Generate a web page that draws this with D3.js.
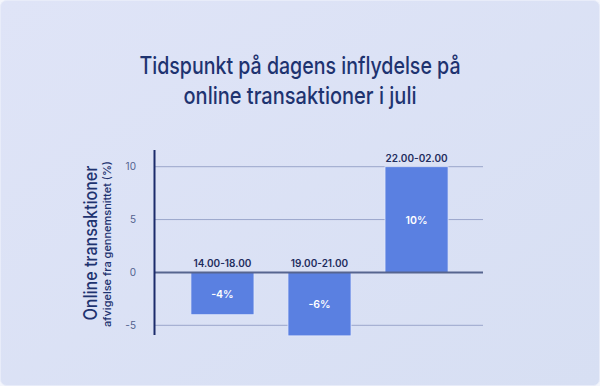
<!DOCTYPE html>
<html lang="da">
<head>
    <meta charset="utf-8">
    <script src="https://d3js.org/d3.v7.min.js"></script>
    <style>
        body { margin: 0; background: #f4f6fc; }
        svg { display: block; }
    </style>
</head>
<body>
    <script type="text/javascript">

        let w = 600;
        let h = 386;

        // data
        let categories = ["14.00-18.00", "19.00-21.00", "22.00-02.00"];
        let values = [-4, -6, 10];
        let valueLabels = ["-4%", "-6%", "10%"];
        let yTicks = [-5, 0, 5, 10];

        let svg = d3.select("body").append("svg")
                    .attr("width", w)
                    .attr("height", h);

        let defs = svg.append("defs");
        let grad = defs.append("linearGradient")
                    .attr("id", "bg")
                    .attr("x1", "0%").attr("y1", "0%")
                    .attr("x2", "100%").attr("y2", "100%");
        grad.append("stop").attr("offset", "0%").attr("stop-color", "#dfe4f7");
        grad.append("stop").attr("offset", "100%").attr("stop-color", "#d7dff3");

        // card
        svg.append("rect")
            .attr("x", 0.5).attr("y", 0.5)
            .attr("width", w - 1).attr("height", h - 1)
            .attr("rx", 6)
            .attr("fill", "url(#bg)")
            .attr("stroke", "#e8ecf9");

        // title (squeezed a bit, the original font is narrower)
        let titleLines = [
            {text: "Tidspunkt på dagens inflydelse på", y: 74, len: 321},
            {text: "online transaktioner i juli", y: 104, len: 233}
        ];
        svg.selectAll(".title")
            .data(titleLines)
            .join("text")
                .attr("class", "title")
                .attr("x", 300)
                .attr("y", d => d.y)
                .attr("text-anchor", "middle")
                .attr("font-family", "Inter, sans-serif")
                .attr("font-weight", 500)
                .attr("font-size", 24)
                .attr("fill", "#1e3370")
                .attr("textLength", d => d.len)
                .attr("lengthAdjust", "spacingAndGlyphs")
                .text(d => d.text);

        let y = d3.scaleLinear()
                    .domain([-5, 10])
                    .range([325.3, 166.7]);

        let x = d3.scaleBand()
                    .domain(categories)
                    .range([155, 484])
                    .paddingInner(0.35)
                    .paddingOuter(0.37);

        // gridlines
        svg.selectAll(".grid")
            .data(yTicks.filter(d => d !== 0))
            .join("line")
                .attr("class", "grid")
                .attr("x1", 155).attr("x2", 483)
                .attr("y1", d => y(d)).attr("y2", d => y(d))
                .attr("stroke", "#9aa6cb")
                .attr("stroke-width", 1);

        // tick labels
        svg.selectAll(".tick-label")
            .data(yTicks)
            .join("text")
                .attr("class", "tick-label")
                .attr("x", 136)
                .attr("y", d => y(d) + 3.5)
                .attr("text-anchor", "end")
                .attr("font-family", "Inter, sans-serif")
                .attr("font-size", 10)
                .attr("fill", "#52618e")
                .text(d => d);

        // bars
        svg.selectAll(".bar")
            .data(values)
            .join("rect")
                .attr("class", "bar")
                .attr("x", (d, i) => x(categories[i]))
                .attr("y", d => y(Math.max(0, d)))
                .attr("width", x.bandwidth())
                .attr("height", d => Math.abs(y(d) - y(0)))
                .attr("fill", "#5a80e1")
                .attr("stroke", "#e3e9fb")
                .attr("stroke-width", 0.8);

        // zero line
        svg.append("line")
            .attr("x1", 155).attr("x2", 483)
            .attr("y1", y(0)).attr("y2", y(0))
            .attr("stroke", "#56658f")
            .attr("stroke-width", 2);

        // y axis line
        svg.append("line")
            .attr("x1", 154.5).attr("x2", 154.5)
            .attr("y1", 150).attr("y2", 335)
            .attr("stroke", "#1b2b6b")
            .attr("stroke-width", 2);

        // category labels
        svg.selectAll(".cat-label")
            .data(values)
            .join("text")
                .attr("class", "cat-label")
                .attr("x", (d, i) => x(categories[i]) + x.bandwidth() / 2)
                .attr("y", d => y(Math.max(0, d)) - 5)
                .attr("text-anchor", "middle")
                .attr("font-family", "Inter, sans-serif")
                .attr("font-weight", 600)
                .attr("font-size", 10)
                .attr("fill", "#1f2d5e")
                .text((d, i) => categories[i]);

        // value labels
        svg.selectAll(".val-label")
            .data(values)
            .join("text")
                .attr("class", "val-label")
                .attr("x", (d, i) => x(categories[i]) + x.bandwidth() / 2)
                .attr("y", d => (y(d) + y(0)) / 2 + 4)
                .attr("text-anchor", "middle")
                .attr("font-family", "Inter, sans-serif")
                .attr("font-weight", 600)
                .attr("font-size", 10.5)
                .attr("fill", "#ffffff")
                .text((d, i) => valueLabels[i]);

        // y axis title
        svg.append("text")
            .attr("transform", "translate(97,243) rotate(-90)")
            .attr("text-anchor", "middle")
            .attr("font-family", "Inter, sans-serif")
            .attr("font-weight", 500)
            .attr("font-size", 18)
            .attr("fill", "#1e3370")
            .attr("textLength", 155)
            .attr("lengthAdjust", "spacingAndGlyphs")
            .text("Online transaktioner");

        svg.append("text")
            .attr("transform", "translate(111,244) rotate(-90)")
            .attr("text-anchor", "middle")
            .attr("font-family", "Inter, sans-serif")
            .attr("font-weight", 500)
            .attr("font-size", 11)
            .attr("fill", "#1e3370")
            .text("afvigelse fra gennemsnittet (%)");

    </script>
</body>
</html>
